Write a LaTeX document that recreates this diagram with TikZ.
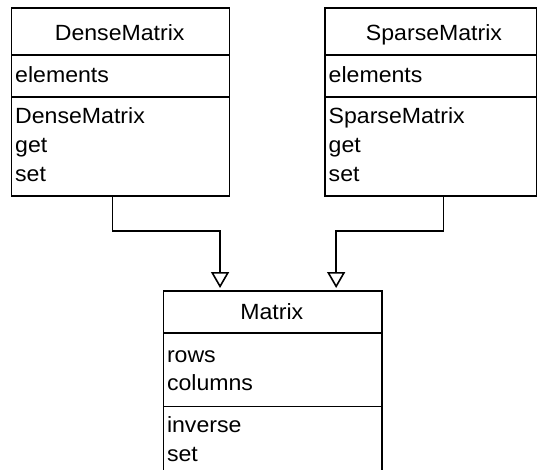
\documentclass[tikz,border=0pt]{standalone}
\usepackage{fontspec}
\setmainfont{Liberation Sans}[FakeStretch=1.05]
\usetikzlibrary{arrows.meta,calc}

\tikzset{
  umlpart/.style={draw, line width=1.6pt, rectangle, inner sep=0pt, anchor=north west},
  umltext/.style={inner sep=0pt, anchor=base west, font=\fontsize{22}{26}\selectfont},
  umltitle/.style={inner sep=0pt, anchor=base, font=\fontsize{22}{26}\selectfont},
  inherit/.style={draw, line width=1.6pt, -{Triangle[open, length=16pt, width=18pt, line width=1.6pt]}}
}

\begin{document}
\begin{tikzpicture}[x=1pt, y=-1pt]
  \useasboundingbox (0,0) rectangle (537,469);
  \clip (0,0) rectangle (537,469);

  % DenseMatrix class
  \node[umlpart, minimum width=218pt, minimum height=47pt]   (dh) at (10.7,7.3) {};
  \node[umlpart, minimum width=218pt, minimum height=41.7pt] (da) at (10.7,54.3) {};
  \node[umlpart, minimum width=218pt, minimum height=99pt]   (dm) at (10.7,96) {};
  \node[umltitle] (dt) at (119.7,40.7) {DenseMatrix};
  \node[umltext] (da1) at (15,82) {elements};
  \node[umltext] (dm1) at (15,123.5) {DenseMatrix};
  \node[umltext] (dm2) at (15,152.5) {get};
  \node[umltext] (dm3) at (15,181.5) {set};

  % SparseMatrix class
  \node[umlpart, minimum width=212pt, minimum height=47pt]   (sh) at (324.3,7.3) {};
  \node[umlpart, minimum width=212pt, minimum height=41.7pt] (sa) at (324.3,54.3) {};
  \node[umlpart, minimum width=212pt, minimum height=99pt]   (sm) at (324.3,96) {};
  \node[umltitle] (st) at (434,40.7) {SparseMatrix};
  \node[umltext] (sa1) at (328.5,82) {elements};
  \node[umltext] (sm1) at (328.5,123.5) {SparseMatrix};
  \node[umltext] (sm2) at (328.5,152.5) {get};
  \node[umltext] (sm3) at (328.5,181.5) {set};

  % Matrix class
  \node[umlpart, minimum width=218.3pt, minimum height=42.3pt] (mh) at (162.7,290) {};
  \node[umlpart, minimum width=218.3pt, minimum height=73.4pt] (ma) at (162.7,332.3) {};
  \node[umlpart, minimum width=218.3pt, minimum height=80pt]   (mm) at (162.7,405.7) {};
  \node[umltitle] (mt) at (271.8,319.3) {Matrix};
  \node[umltext] (ma1) at (166.8,362.5) {rows};
  \node[umltext] (ma2) at (166.8,390) {columns};
  \node[umltext] (mm1) at (166.8,432) {inverse};
  \node[umltext] (mm2) at (166.8,461.7) {set};

  % generalisation arrows
  \coordinate (dbend) at (112.3,230.7);
  \coordinate (sbend) at (443.3,230.7);
  \draw[inherit] (dm.south -| dbend) -- (dbend) -| ([xshift=-52.6pt, yshift=2pt]mh.north);
  \draw[inherit] (sm.south -| sbend) -- (sbend) -| ([xshift=63.5pt, yshift=2pt]mh.north);
\end{tikzpicture}
\end{document}
